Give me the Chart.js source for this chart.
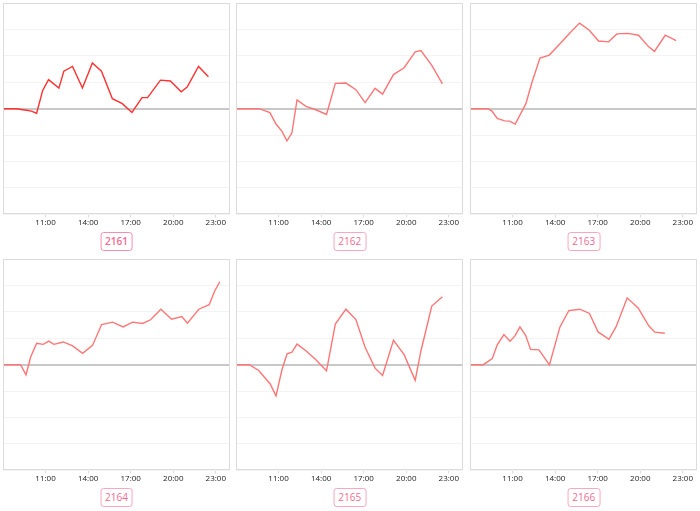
<!DOCTYPE html>
<html>
<head>
<meta charset="utf-8">
<script src="https://cdn.jsdelivr.net/npm/chart.js@4.4.1/dist/chart.umd.min.js"></script>
<style>
  html, body { margin: 0; padding: 0; background: #fff; }
  body { width: 700px; height: 511px; position: relative; overflow: hidden; font-family: "Open Sans", sans-serif; }
  .panel { position: absolute; width: 233px; height: 255px; }
  .panel canvas { position: absolute; left: 0; top: 0; }
  .tag { position: absolute; top: 232px; left: 50%; transform: translateX(-50%);
         border: 1.5px solid #f9a6bf; border-radius: 3px; color: #f06a92;
         font-size: 10px; line-height: 15px; padding: 1px 4px; background: #fff; }
</style>
</head>
<body>
<script>
// ---- data (time in hours, value) ----
const tickHours = [11, 14, 17, 20, 23];
const tickLabels = ['11:00', '14:00', '17:00', '20:00', '23:00'];
const panelNames = ['2161', '2162', '2163', '2164', '2165', '2166'];

const times1 = [8.0, 8.96, 9.66, 10.0, 10.37, 10.79, 11.21, 11.94, 12.29, 12.9, 13.6, 14.3, 14.94, 15.71, 16.41, 17.09, 17.8, 18.19, 19.1, 19.8, 20.56, 20.98, 21.78, 22.48];
const vals1  = [0, 0, -0.06, -0.09, -0.17, 0.68, 1.1, 0.78, 1.42, 1.6, 0.78, 1.73, 1.42, 0.38, 0.19, -0.14, 0.42, 0.42, 1.08, 1.05, 0.64, 0.82, 1.6, 1.21];

const times2 = [8.0, 9.64, 10.39, 10.82, 11.24, 11.59, 11.94, 12.3, 12.93, 13.63, 14.38, 15.0, 15.75, 16.45, 17.1, 17.8, 18.33, 19.1, 19.85, 20.63, 21.03, 21.8, 22.55];
const vals2  = [0, 0, -0.15, -0.58, -0.86, -1.22, -0.92, 0.33, 0.09, -0.04, -0.22, 0.96, 0.97, 0.72, 0.23, 0.77, 0.55, 1.29, 1.55, 2.15, 2.2, 1.64, 0.94];

const times3 = [8.0, 9.27, 9.55, 9.92, 10.44, 10.79, 11.19, 11.94, 12.37, 12.93, 13.59, 14.36, 15.07, 15.72, 16.43, 17.06, 17.77, 18.35, 19.13, 19.88, 20.58, 21.0, 21.76, 22.53];
const vals3  = [0, 0, -0.09, -0.37, -0.46, -0.47, -0.58, 0.19, 1.0, 1.92, 2.03, 2.47, 2.88, 3.24, 2.96, 2.56, 2.53, 2.83, 2.85, 2.78, 2.35, 2.17, 2.78, 2.58];

const times4 = [8.0, 9.24, 9.62, 9.95, 10.37, 10.84, 11.22, 11.59, 12.25, 12.91, 13.61, 14.31, 14.95, 15.72, 16.47, 17.13, 17.84, 18.4, 19.13, 19.88, 20.6, 21.0, 21.8, 22.53, 22.93, 23.28];
const vals4  = [0, 0, -0.38, 0.29, 0.81, 0.77, 0.89, 0.77, 0.86, 0.71, 0.43, 0.73, 1.52, 1.61, 1.43, 1.61, 1.56, 1.7, 2.1, 1.72, 1.82, 1.57, 2.1, 2.27, 2.8, 3.14];

const times5 = [8.0, 8.94, 9.6, 10.4, 10.82, 11.24, 11.6, 11.94, 12.3, 12.93, 13.63, 14.38, 15.0, 15.75, 16.45, 17.1, 17.8, 18.33, 19.1, 19.85, 20.63, 21.03, 21.8, 22.55];
const vals5  = [0, 0, -0.22, -0.72, -1.18, -0.19, 0.41, 0.47, 0.78, 0.53, 0.19, -0.23, 1.54, 2.1, 1.71, 0.66, -0.13, -0.41, 0.92, 0.38, -0.59, 0.51, 2.22, 2.57];

const times6 = [8.0, 8.94, 9.57, 9.92, 10.39, 10.82, 11.17, 11.52, 11.92, 12.27, 12.86, 13.6, 14.34, 14.97, 15.74, 16.42, 17.03, 17.79, 18.3, 19.08, 19.85, 20.6, 21.03, 21.73];
const vals6  = [0, 0, 0.23, 0.75, 1.14, 0.89, 1.09, 1.43, 1.11, 0.58, 0.56, -0.01, 1.43, 2.05, 2.1, 1.94, 1.24, 0.96, 1.44, 2.53, 2.15, 1.47, 1.23, 1.19];

const allTimes = [times1, times2, times3, times4, times5, times6];
const allVals  = [vals1, vals2, vals3, vals4, vals5, vals6];
const lineColors = ['#ff3030', '#ff7575', '#ff7575', '#ff7575', '#ff7575', '#ff7575'];

const frame = {
  id: 'frame',
  afterDraw(chart) {
    const a = chart.chartArea, ctx = chart.ctx;
    ctx.save();
    ctx.strokeStyle = '#dcdcdc';
    ctx.lineWidth = 1;
    ctx.strokeRect(Math.round(a.left) + 0.5, Math.round(a.top) + 0.5,
                   Math.round(a.right - a.left) - 1, Math.round(a.bottom - a.top) - 1);
    ctx.restore();
  }
};

const panelLeft = [0, 233.3, 467.3];
for (let i = 0; i < 6; i++) {
  const col = i % 3, row = Math.floor(i / 3);
  const div = document.createElement('div');
  div.className = 'panel';
  div.style.left = panelLeft[col] + 'px';
  div.style.top = (row * 256) + 'px';
  const cv = document.createElement('canvas');
  cv.width = 233; cv.height = 229;
  cv.style.width = '233px'; cv.style.height = '229px';
  div.appendChild(cv);
  const tag = document.createElement('div');
  tag.className = 'tag';
  tag.textContent = panelNames[i];
  if (i === 0) { tag.style.fontWeight = '600'; tag.style.borderColor = '#f58fae'; }
  div.appendChild(tag);
  document.body.appendChild(div);

  const pts = allTimes[i].map((t, k) => ({ x: t, y: allVals[i][k] }));
  new Chart(cv, {
    type: 'line',
    data: { datasets: [{ data: pts, borderColor: lineColors[i], borderWidth: 1.4,
                         pointRadius: 0, tension: 0, fill: false }] },
    options: {
      responsive: false, animation: false,
      layout: { padding: { left: 3, right: 3, top: 3, bottom: 0 } },
      plugins: { legend: { display: false }, tooltip: { enabled: false }, title: { display: false } },
      scales: {
        x: {
          type: 'linear', min: 8, max: 24,
          afterBuildTicks: ax => { ax.ticks = tickHours.map(v => ({ value: v })); },
          ticks: { callback: v => tickLabels[tickHours.indexOf(v)], color: '#222',
                   font: { size: 8, family: 'Open Sans' }, maxRotation: 0, autoSkip: false, padding: 1 },
          grid: { display: true, drawOnChartArea: false, drawTicks: true, tickLength: 3, color: '#dcdcdc' },
          border: { display: false }
        },
        y: {
          min: -4, max: 4,
          ticks: { stepSize: 1, display: false },
          grid: {
            drawTicks: false,
            color: c => c.tick.value === 0 ? '#c8c8c8' : '#f3f3f3',
            lineWidth: c => c.tick.value === 0 ? 2 : 1
          },
          border: { display: false }
        }
      }
    },
    plugins: [frame]
  });
}
</script>
</body>
</html>
